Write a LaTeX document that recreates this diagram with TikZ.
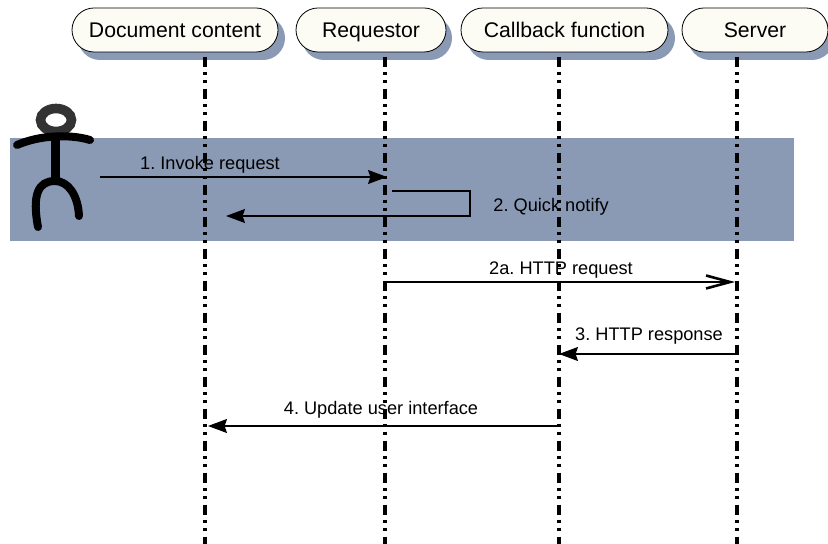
\documentclass[tikz,border=0pt]{standalone}
\usepackage{fontspec}
\setmainfont{Liberation Sans}
\frenchspacing
\usetikzlibrary{arrows.meta}
\definecolor{bandblue}{RGB}{138,154,181}
\definecolor{capfill}{RGB}{252,251,244}
\begin{document}
\begin{tikzpicture}
		[x=0.5pt,y=-0.5pt,
		actor/.style={draw,thin,fill=capfill,rounded corners=11pt,minimum height=22pt,inner sep=0pt,text height=9.4pt,text depth=2pt,font=\fontsize{10.6}{12}\selectfont},
		shade/.style={fill=bandblue,rounded corners=11pt},
		lifeline/.style={line width=1.6pt,dash pattern=on 5pt off 2.5pt on 1.5pt off 2.5pt on 1.5pt off 3pt},
		msg/.style={semithick,-{Stealth[length=9.5pt,width=7pt,inset=1.2pt]}},
		msglabel/.style={font=\fontsize{9.1}{11}\selectfont,inner sep=0pt},
		limb/.style={line width=4pt,line cap=round}]
		\useasboundingbox (0,0) rectangle (828,544);

		% the band behind the first two messages
		\fill [bandblue] (10,138) rectangle (794,241);

		% draw the shadows of the actors
		\fill [shade] (78,16) rectangle (285,60);
		\fill [shade] (302,16) rectangle (452,60);
		\fill [shade] (467,16) rectangle (675,60);
		\fill [shade] (688,16) rectangle (834,60);

		% draw the actors
		\node [actor,minimum width=103pt] (doc) at (175,30) {Document content};
		\node [actor,minimum width=75pt] (req) at (371,30) {Requestor};
		\node [actor,minimum width=103.5pt] (cb) at (564.5,30) {Callback function};
		\node [actor,minimum width=73pt] (srv) at (755,30) {Server};

		% draw the lifelines
		\coordinate (docend) at (205,544);
		\coordinate (reqend) at (385,544);
		\coordinate (cbend) at (559,544);
		\coordinate (srvend) at (737,544);
		\draw [lifeline] (205,56.7) -- (docend);
		\draw [lifeline] (385,56.7) -- (reqend);
		\draw [lifeline] (559,56.7) -- (cbend);
		\draw [lifeline] (737,56.7) -- (srvend);

		% draw the stick figure
		\draw [line width=4.8pt,black!80] (56,120) ellipse (15.5 and 11.5);
		\draw [line width=4.5pt] (55,133) -- (55,180);
		\draw [limb] (17,145) .. controls (40,135) and (70,134) .. (90,140);
		\draw [limb] (38,227) .. controls (32,195) and (38,181) .. (55,181) .. controls (68,181) and (78,195) .. (79,216);

		% draw the messages
		\coordinate (start) at (100,177);
		\coordinate (reqin) at (387,177);
		\coordinate (noteup) at (392,191);
		\coordinate (notert) at (470,191);
		\coordinate (notelo) at (470,216);
		\coordinate (noteend) at (226,216);
		\coordinate (reqout) at (385,282);
		\coordinate (srvin) at (735,282);
		\coordinate (srvout) at (737,354);
		\coordinate (cbin) at (559,354);
		\coordinate (cbout) at (557,426);
		\coordinate (docin) at (208,426);
		\draw [msg] (start) -- (reqin);
		\draw [msg] (noteup) -- (notert) -- (notelo) -- (noteend);
		\draw [semithick,-{Straight Barb[length=12pt,width=6.5pt,line width=1.3pt]}] (reqout) -- (srvin);
		\draw [msg] (srvout) -- (cbin);
		\draw [msg] (cbout) -- (docin);
		\node [msglabel] (invoke) at (210,165) {1. Invoke request};
		\node [msglabel,anchor=west] (quick) at (493,207) {2. Quick notify};
		\node [msglabel] (httpreq) at (561,270) {2a. HTTP request};
		\node [msglabel] (httpresp) at (649,336) {3. HTTP response};
		\node [msglabel] (update) at (381,410) {4. Update user interface};
	\end{tikzpicture}
\end{document}
